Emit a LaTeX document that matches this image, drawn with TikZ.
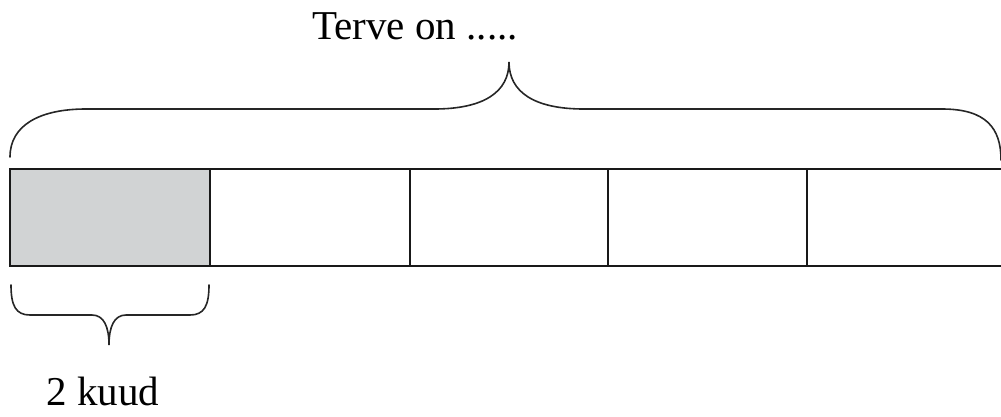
\documentclass[tikz,border=0pt]{standalone}
\usepackage{fontspec}
\setmainfont{Liberation Serif}
\definecolor{cellgray}{RGB}{209,211,212}
\tikzset{
  barline/.style={line width=2.6pt, draw=black!90},
  braceline/.style={line width=1.6pt, draw=black!85, line cap=round},
  label/.style={font=\fontsize{41}{48}\selectfont, anchor=base}
}
\begin{document}
\begin{tikzpicture}[x=1pt, y=-1pt]
  \useasboundingbox (0,0) rectangle (1001,416);

  % Shaded first part
  \fill[cellgray] (10,169) rectangle (210,266);

  % Bar outline and dividers
  \draw[barline] (1001,169) -- (10,169) -- (10,266) -- (1001,266);
  \foreach \xpos in {210,410,608,807}
    \draw[barline] (\xpos,169) -- (\xpos,266);

  % Big brace over the whole bar
  \coordinate (bigtip) at (509,62);
  \draw[braceline] (10,157) .. controls (10,125) and (40,109) .. (86,109)
    -- (434,109) .. controls (484,109) and (509,92) .. (bigtip)
    .. controls (509,92) and (534,109) .. (584,109)
    -- (942,109) .. controls (986,109) and (1001,128) .. (1001,160);
  \node[label] (total) at (415,39) {Terve on .....};

  % Small brace under the shaded part
  \coordinate (smalltip) at (109,345);
  \draw[braceline] (11,285) .. controls (11,306) and (16,315) .. (30,315)
    -- (92,315) .. controls (104,315) and (109,327) .. (smalltip)
    .. controls (109,327) and (114,315) .. (126,315)
    -- (190,315) .. controls (204,315) and (209,306) .. (209,285);
  \node[label] (part) at (103,405) {2 kuud};
\end{tikzpicture}
\end{document}
